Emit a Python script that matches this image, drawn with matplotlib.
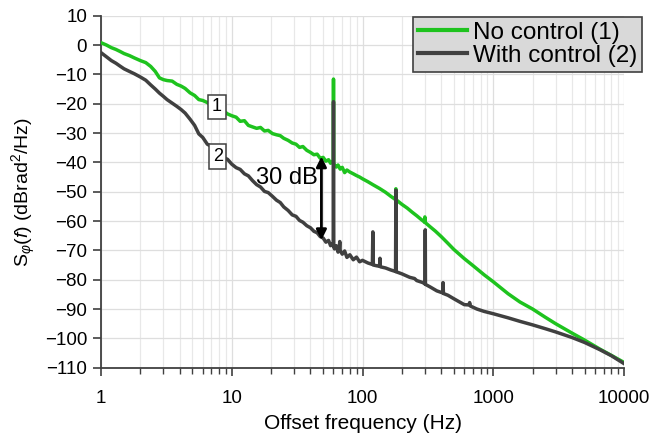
import matplotlib
matplotlib.use("Agg")
import matplotlib.pyplot as plt
from matplotlib.ticker import LogLocator, NullFormatter, FixedLocator

# values (frequency in Hz, level in dBrad^2/Hz)
green_f = [1, 1.1, 1.2, 1.3, 1.4, 1.5, 1.65, 1.8, 2.0, 2.2, 2.4, 2.6, 2.8, 3.0, 3.2, 3.5,
           3.8, 4.1, 4.4, 4.8, 5.2, 5.6, 6.0, 6.5, 7.0, 7.5, 8.0, 8.6, 9.3, 10, 10.8, 11.6,
           12.5, 13.4, 14.4, 15.5, 16.6, 17.8, 19, 20.5, 22, 23.5, 25, 27, 29, 31, 33, 35,
           37.5, 40, 42.5, 45, 47.5, 50, 52.5, 55, 57, 59, 59.7, 60, 60.3, 61, 63, 65, 67.5,
           70, 73, 76, 80, 85, 90, 95, 100, 110, 120, 135, 150, 165, 175, 179, 180, 181, 185,
           200, 220, 240, 260, 280, 295, 299, 300, 301, 305, 330, 360, 400, 450, 500, 600,
           700, 850, 1000, 1300, 1600, 2000, 2500, 3000, 4000, 5000, 6500, 8000, 10000]
green_db = [0.8, 0.0, -0.9, -1.5, -2.2, -2.9, -3.6, -4.4, -5.3, -6.0, -7.3, -9.0, -11.2, -11.8,
            -12.1, -12.3, -13.4, -14.0, -14.8, -16.3, -17.2, -18.6, -18.9, -19.6, -20.8, -20.2,
            -21.9, -22.4, -23.5, -24.1, -24.6, -26.0, -25.8, -27.4, -27.9, -28.4, -28.1, -29.3,
            -29.1, -30.2, -30.6, -30.9, -31.8, -32.5, -33.4, -33.8, -34.9, -34.6, -35.9, -36.6,
            -37.4, -37.2, -38.6, -38.3, -39.6, -39.1, -40.3, -39.8, -40.2, -11.6, -40.4, -40.8,
            -41.6, -40.9, -42.3, -41.7, -43.5, -42.6, -43.3, -43.9, -44.5, -45.0, -45.6, -46.6,
            -47.6, -48.9, -50.2, -51.6, -52.4, -52.7, -49.0, -52.8, -53.1, -54.3, -55.6, -57.0,
            -58.2, -59.4, -60.2, -60.4, -58.6, -60.5, -60.7, -62.0, -63.4, -65.3, -67.6, -69.7,
            -72.8, -75.2, -78.3, -80.7, -84.8, -87.6, -90.0, -92.8, -95.0, -98.2, -100.6,
            -103.6, -105.8, -108.2]

gray_f = [1, 1.1, 1.2, 1.3, 1.4, 1.5, 1.65, 1.8, 2.0, 2.2, 2.4, 2.6, 2.8, 3.0, 3.2, 3.5,
          3.8, 4.1, 4.4, 4.8, 5.2, 5.6, 6.0, 6.5, 7.0, 7.5, 8.0, 8.6, 9.3, 10, 10.8, 11.6,
          12.5, 13.4, 14.4, 15.5, 16.6, 17.8, 19, 20.5, 22, 23.5, 25, 27, 29, 31, 33, 35,
          37.5, 40, 42.5, 45, 47.5, 50, 52.5, 55, 57, 59, 59.7, 60, 60.3, 61, 63, 65, 66.5,
          67, 67.5, 70, 73, 76, 80, 85, 90, 95, 100, 110, 119, 120, 121, 130, 135, 136, 137,
          150, 165, 179, 180, 181, 200, 230, 250, 260, 290, 301, 302, 303, 330, 370, 410,
          413, 416, 450, 500, 600, 650, 660, 670, 750, 850, 1000, 1300, 1600, 2000, 2500,
          3000, 4000, 5000, 6500, 8000, 10000]
gray_db = [-2.6, -4.0, -5.3, -6.2, -7.2, -8.1, -9.0, -9.8, -10.9, -12.0, -13.6, -15.0, -16.4,
           -17.5, -18.6, -19.8, -20.9, -22.0, -23.2, -25.3, -27.4, -30.3, -31.5, -33.8, -34.6,
           -36.0, -37.3, -38.2, -39.0, -40.6, -41.8, -42.4, -43.9, -44.6, -46.2, -47.6, -48.4,
           -49.9, -50.3, -51.6, -52.9, -53.7, -55.2, -56.4, -57.9, -58.4, -59.8, -60.4, -61.6,
           -62.3, -63.5, -64.0, -65.3, -65.8, -67.2, -66.6, -68.4, -67.7, -68.6, -19.3, -68.9,
           -69.5, -68.4, -70.6, -69.0, -67.0, -70.0, -71.3, -70.2, -72.4, -71.5, -73.2, -72.3,
           -73.9, -73.4, -74.3, -74.8, -63.7, -75.0, -75.3, -75.4, -72.7, -75.6, -76.0, -76.7,
           -77.2, -49.5, -77.3, -78.0, -79.2, -79.6, -80.3, -81.0, -81.5, -63.0, -81.6, -82.5,
           -83.8, -84.5, -81.0, -84.7, -85.3, -86.5, -88.5, -88.6, -87.8, -89.0, -90.0, -90.8,
           -91.6, -93.0, -94.2, -95.4, -96.7, -97.8, -99.7, -101.4, -103.8, -105.9, -108.6]

series_labels = ["No control (1)", "With control (2)"]
y_ticks = list(range(-110, 11, 10))
x_ticks = [1, 10, 100, 1000, 10000]
x_ticklabels = ["1", "10", "100", "1000", "10000"]

arrow_f = 48.5
arrow_top = -38.0
arrow_bottom = -66.5

plt.rcParams["font.family"] = ["Liberation Sans", "DejaVu Sans"]
plt.rcParams["mathtext.fontset"] = "custom"
plt.rcParams["mathtext.rm"] = "Liberation Sans"
plt.rcParams["mathtext.it"] = "Liberation Sans:italic"

fig = plt.figure(figsize=(6.71, 4.38), dpi=100)
ax = fig.add_axes([101 / 671, 1 - 367.7 / 438, 523 / 671, 352 / 438])

ax.plot(green_f, green_db, color="#1ec31e", lw=2.5, label=series_labels[0], zorder=3)
ax.plot(gray_f, gray_db, color="#404040", lw=2.5, label=series_labels[1], zorder=4)

ax.set_xscale("log")
ax.set_xlim(1, 10000)
ax.set_ylim(-110, 10)
ax.xaxis.set_major_locator(FixedLocator(x_ticks))
ax.set_xticklabels(x_ticklabels)
ax.xaxis.set_minor_locator(LogLocator(base=10, subs=range(2, 10)))
ax.xaxis.set_minor_formatter(NullFormatter())
ax.set_yticks(y_ticks)
ax.set_yticklabels([str(v).replace("-", "\u2212") for v in y_ticks])

ax.grid(True, which="major", color="#dedede", lw=0.9)
ax.grid(True, which="minor", axis="x", color="#e8e8e8", lw=0.9)
ax.set_axisbelow(True)

for side in ("top", "right"):
    ax.spines[side].set_visible(False)
for side in ("left", "bottom"):
    ax.spines[side].set_color("#404040")
    ax.spines[side].set_linewidth(1.3)

ax.tick_params(which="major", direction="out", length=6, width=1.2, color="#404040",
               labelsize=13.5, pad=4)
ax.tick_params(which="minor", direction="out", length=4, width=1.0, color="#404040")
ax.tick_params(axis="x", which="major", pad=10)

ax.set_xlabel("Offset frequency (Hz)", fontsize=15, labelpad=5)
ax.set_ylabel(r"S$_{\varphi}$$\mathit{(f)}$ (dBrad$^2$/Hz)", fontsize=14, labelpad=5)

# 30 dB double arrow between the two curves
ax.annotate("", xy=(arrow_f, arrow_bottom), xytext=(arrow_f, arrow_top),
            arrowprops=dict(arrowstyle="<|-|>", color="black", lw=2.0,
                            mutation_scale=15, shrinkA=0, shrinkB=0), zorder=6)
ax.text(26.5, -45.5, "30 dB", fontsize=17, ha="center", va="center", zorder=6)

box = dict(boxstyle="square,pad=0.2", fc="white", ec="#404040", lw=1.1)
ax.text(7.7, -21, "1", fontsize=13, ha="center", va="center", bbox=box, zorder=7)
ax.text(7.8, -38, "2", fontsize=13, ha="center", va="center", bbox=box, zorder=7)

leg = ax.legend(loc="upper right", bbox_to_anchor=(1.034, 0.997), borderaxespad=0,
                fontsize=17.5, fancybox=False, framealpha=1, facecolor="#d9d9d9",
                edgecolor="#404040", handlelength=2.0, handletextpad=0.25,
                labelspacing=0.05, borderpad=0.2)
leg.get_frame().set_linewidth(1.2)
for line in leg.get_lines():
    line.set_linewidth(3.0)

fig.savefig("out.png", dpi=100)
